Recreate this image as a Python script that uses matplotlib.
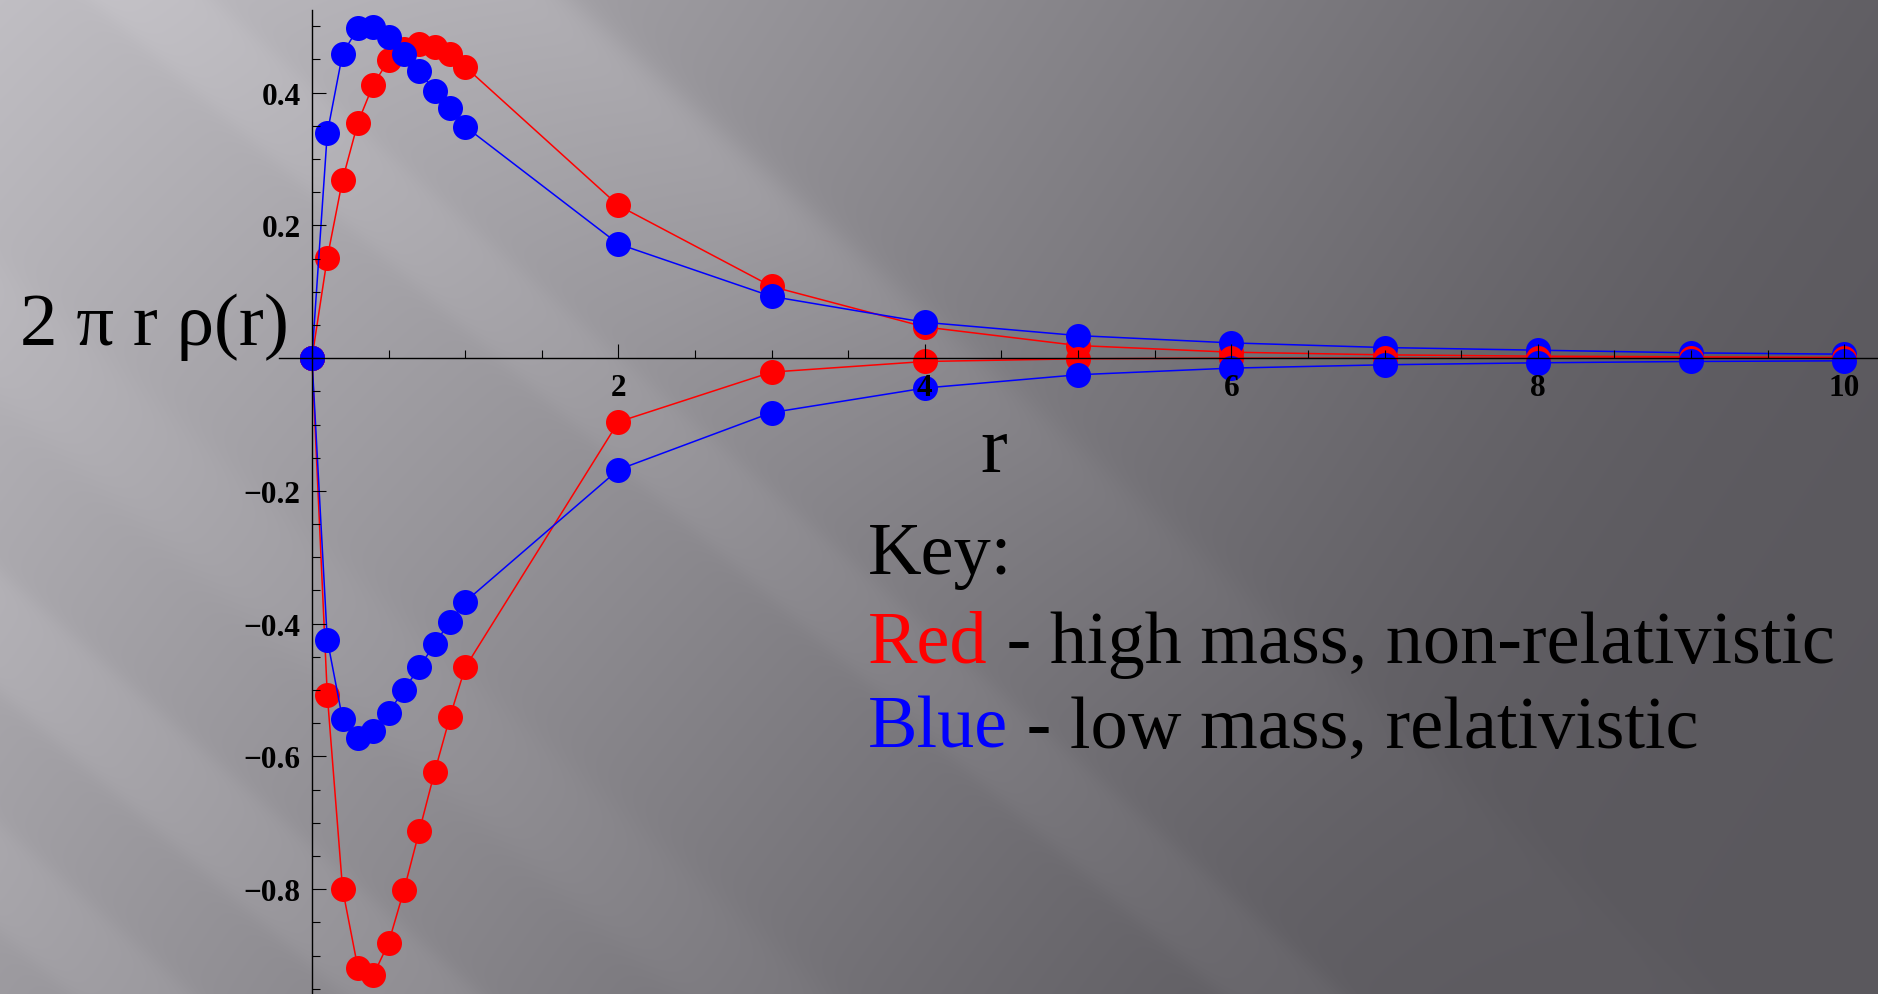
import numpy as np
import matplotlib
matplotlib.use("Agg")
import matplotlib.pyplot as plt
from matplotlib.ticker import FixedLocator, MultipleLocator

plt.rcParams['font.family'] = ['Liberation Serif', 'DejaVu Serif']

# radial grid and the two densities (upper and lower branches)
r = [0, 0.1, 0.2, 0.3, 0.4, 0.5, 0.6, 0.7, 0.8, 0.9, 1.0,
     2, 3, 4, 5, 6, 7, 8, 9, 10]
red_pos = [0, 0.151, 0.269, 0.355, 0.412, 0.449, 0.466, 0.474, 0.469, 0.458, 0.439,
           0.230, 0.108, 0.047, 0.019, 0.009, 0.005, 0.003, 0.002, 0.001]
blue_pos = [0, 0.339, 0.459, 0.497, 0.499, 0.484, 0.459, 0.432, 0.403, 0.377, 0.349,
            0.172, 0.093, 0.054, 0.034, 0.023, 0.016, 0.012, 0.008, 0.006]
red_neg = [0, -0.507, -0.800, -0.919, -0.930, -0.881, -0.802, -0.713, -0.624, -0.541, -0.466,
           -0.096, -0.021, -0.005, -0.001, 0, 0, 0, 0, 0]
blue_neg = [0, -0.424, -0.544, -0.572, -0.561, -0.534, -0.500, -0.466, -0.431, -0.397, -0.367,
            -0.168, -0.082, -0.045, -0.025, -0.015, -0.010, -0.007, -0.005, -0.004]

xticks = [2, 4, 6, 8, 10]
yticks = [-0.8, -0.6, -0.4, -0.2, 0.2, 0.4]

W, H = 1878, 995
fig = plt.figure(figsize=(W / 100, H / 100), dpi=100)


def edge(v, w):
    # smooth 0 -> 1 step of half-width w
    return 0.5 * (1 + np.tanh(v / w))


# slide background: grey gradient with diagonal light streaks
yy, xx = np.mgrid[0:H, 0:W].astype(float)
base = 0.74 - 2.0e-4 * xx - 1.3e-4 * yy
L = 0.35 + 0.5 * ((base - 0.35) + np.sqrt((base - 0.35) ** 2 + 0.002))
m = 0.88
n = np.sqrt(1 + m * m)
t = (xx * m - yy) / n
along = (xx + yy * m) / n
fade = np.exp(-np.clip(along - 700, 0, None) / 600)
L += 0.07 * fade * edge(375 - t, 16) * np.exp(-np.clip(375 - t, 0, None) / 220)
L += 0.03 * edge(t - 60, 10) * edge(140 - t, 10)
L += 0.035 * edge(t + 520, 10) * edge(-430 - t, 10)
L += 0.03 * edge(t + 700, 10) * edge(-620 - t, 10)
L += 0.02 * edge(t + 300, 15) * edge(-200 - t, 15)
img = np.dstack([L, L - 0.008, L + 0.012]).clip(0, 1)
bg = fig.add_axes([0, 0, 1, 1])
bg.imshow(img, extent=[0, W, H, 0], aspect='auto', interpolation='bilinear')
bg.axis('off')

ax = fig.add_axes([279 / W, 0, 1 - 279 / W, (H - 10.7) / H])
ax.patch.set_alpha(0)
ax.set_xlim(-0.215, 10.22)
ax.set_ylim(-0.958, 0.525)
ax.set_axisbelow(False)

kw = dict(lw=1.1, marker='o', ms=18, mew=0)
ax.plot(r, red_pos, color='#ff0000', **kw)
ax.plot(r, blue_pos, color='#0000ff', **kw)
ax.plot(r, red_neg, color='#ff0000', **kw)
ax.plot(r, blue_neg, color='#0000ff', **kw)

for side in ['top', 'right']:
    ax.spines[side].set_visible(False)
for side in ['left', 'bottom']:
    ax.spines[side].set_position(('data', 0))
    ax.spines[side].set_linewidth(1.0)
    ax.spines[side].set_color('black')
    ax.spines[side].set_zorder(3)

ax.xaxis.set_major_locator(FixedLocator(xticks))
ax.xaxis.set_minor_locator(MultipleLocator(0.5))
ax.yaxis.set_major_locator(FixedLocator(yticks))
ax.yaxis.set_minor_locator(MultipleLocator(0.05))
ax.tick_params(which='major', direction='in', length=10, width=0.8, labelsize=22.5)
ax.tick_params(which='minor', direction='in', length=6, width=0.8)
ax.tick_params(axis='x', which='major', pad=11)
ax.tick_params(axis='y', which='major', pad=8)
for lbl in ax.get_xticklabels() + ax.get_yticklabels():
    lbl.set_fontweight('bold')

fig.text(20 / W, 1 - 345 / H, '2 π r ρ(r)', fontsize=54, ha='left', va='baseline')
fig.text(994 / W, 1 - 471.7 / H, 'r', fontsize=58, ha='center', va='baseline')

fig.text(868 / W, 1 - 574 / H, 'Key:', fontsize=53.5, ha='left', va='baseline')
t1 = fig.text(868 / W, 1 - 663 / H, 'Red', fontsize=53.5, color='#ff0000',
              ha='left', va='baseline')
ax.annotate(' - high mass, non-relativistic', xy=(1, 0), xycoords=t1,
            fontsize=53.5, ha='left', va='bottom', color='black')
t2 = fig.text(868 / W, 1 - 748 / H, 'Blue', fontsize=53.5, color='#0000ff',
              ha='left', va='baseline')
ax.annotate(' - low mass, relativistic', xy=(1, 0), xycoords=t2,
            fontsize=53.5, ha='left', va='bottom', color='black')

fig.savefig('out.png', dpi=100)
